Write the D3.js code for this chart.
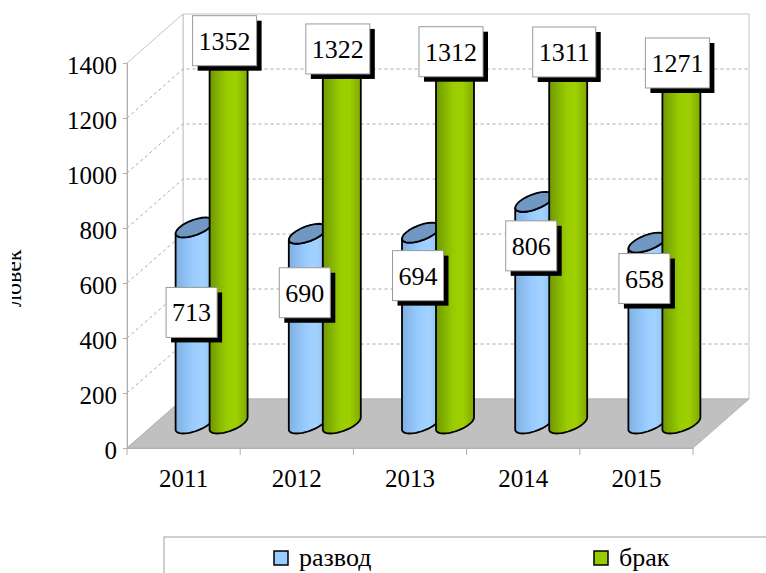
<!DOCTYPE html>
<html>
<head>
<meta charset="utf-8">
<script src="https://cdn.jsdelivr.net/npm/d3@7"></script>
<style>
  body { margin: 0; background: #fff; }
  svg { display: block; }
  svg text { font-family: 'Liberation Serif', 'DejaVu Serif', serif; fill: #000; }
</style>
</head>
<body>
<div id="chart"></div>
<script>
// данные
var years = ["2011", "2012", "2013", "2014", "2015"];
var razvod = [713, 690, 694, 806, 658];
var brak = [1352, 1322, 1312, 1311, 1271];
var yTicks = [0, 200, 400, 600, 800, 1000, 1200, 1400];
var seriesNames = ["развод", "брак"];
var axisTitle = "ловек";

var W = 766, H = 573;
var DX = 56, DY = -49;          // глубина 3D
var x0 = 127, x1 = 693;
var FONT = "'Liberation Serif', 'DejaVu Serif', serif";

var svg = d3.select("#chart").append("svg")
	.attr("width", W)
	.attr("height", H)
	.attr("font-family", FONT);

var x = d3.scaleBand().domain(years).range([x0, x1]);
var y = d3.scaleLinear().domain([0, 1400]).range([448, 63]);

function proj(px, v, z) {
	return [px + z * DX, y(v) + z * DY];
}

// градиенты
var defs = svg.append("defs");
var colors = [
	{ id: "gBlue", stops: ["#80b0e2", "#99ccff", "#a3d2ff", "#8fc0f2"], cap: "#7098c2" },
	{ id: "gGreen", stops: ["#6f9800", "#99cc00", "#9fd000", "#80aa00"], cap: "#6b9000" }
];
colors.forEach(c => {
	var lg = defs.append("linearGradient").attr("id", c.id)
		.attr("x1", 0).attr("x2", 1).attr("y1", 0).attr("y2", 0);
	[0, 0.45, 0.7, 1].forEach((o, i) => {
		lg.append("stop").attr("offset", o).attr("stop-color", c.stops[i]);
	});
});
defs.append("clipPath").attr("id", "titleClip")
	.append("rect").attr("x", 12).attr("y", 0).attr("width", 40).attr("height", H);

// задняя стенка
var bl = proj(x0, 0, 1), tl = proj(x0, 1400, 1), tr = proj(x1, 1400, 1), br = proj(x1, 0, 1);
svg.append("path")
	.attr("d", "M" + [bl, tl, tr, br].join("L") + "Z")
	.attr("fill", "#fff")
	.attr("stroke", "#c4c4c4");

// боковая стенка
var sw = [proj(x0, 0, 0), proj(x0, 1400, 0), proj(x0, 1400, 1), proj(x0, 0, 1)];
svg.append("path")
	.attr("d", "M" + sw.join("L") + "Z")
	.attr("fill", "#fff")
	.attr("stroke", "#c4c4c4");

// сетка
var grid = svg.append("g")
	.attr("stroke", "#a8a8a8")
	.attr("stroke-dasharray", "3,3")
	.attr("fill", "none");
yTicks.filter(v => v > 0 && v < 1400).forEach(v => {
	var a = proj(x0, v, 0), b = proj(x0, v, 1), c = proj(x1, v, 1);
	grid.append("path").attr("d", "M" + a + "L" + b + "L" + c);
});

// пол
var fl = [proj(x0, 0, 0), proj(x0, 0, 1), proj(x1, 0, 1), proj(x1, 0, 0)];
svg.append("path")
	.attr("d", "M" + fl.join("L") + "Z")
	.attr("fill", "#c0c0c0")
	.attr("stroke", "#b4b4b4");

// ось Y
var yAxis = svg.append("g")
	.attr("transform", "translate(" + x0 + ",0)")
	.call(d3.axisLeft(y).tickValues(yTicks).tickSize(4).tickPadding(6).tickFormat(d3.format("d")));
yAxis.attr("font-family", FONT).attr("font-size", 25);
yAxis.select(".domain").attr("stroke", "#b0b0b0");
yAxis.selectAll(".tick line").attr("stroke", "#b0b0b0");
yAxis.selectAll(".tick text").attr("dy", "0.42em");

// ось X
var xAxis = svg.append("g")
	.attr("transform", "translate(0," + y(0) + ")")
	.call(d3.axisBottom(x).tickSize(0).tickPadding(21));
xAxis.attr("font-family", FONT).attr("font-size", 25);
xAxis.select(".domain").attr("stroke", "#b0b0b0");
var edges = years.map(d => x(d)).concat([x1]);
svg.append("g").selectAll("line").data(edges).join("line")
	.attr("x1", d => d).attr("x2", d => d)
	.attr("y1", y(0)).attr("y2", y(0) + 7)
	.attr("stroke", "#b0b0b0");

// подпись оси
svg.append("g")
	.attr("clip-path", "url(#titleClip)")
	.append("text")
	.attr("transform", "translate(21,307) rotate(-90)")
	.attr("font-size", "24px")
	.text(axisTitle);

// цилиндры
var R = 15.2, A = 11.4, B = 10;
var tMax = Math.atan2(A, R), tMin = tMax + Math.PI;
function ept(cx, cy, t) {
	return [cx + R * Math.cos(t) + A * Math.sin(t), cy - B * Math.sin(t)];
}
function arc(cx, cy, ta, tb) {
	var pts = [];
	for (var i = 0; i <= 24; i++) pts.push(ept(cx, cy, ta + (tb - ta) * i / 24));
	return pts;
}
var line = d3.line();

var series = [razvod, brak];
var offs = [-17, 17];
var cyl = svg.append("g");
years.forEach((yr, i) => {
	series.forEach((vals, s) => {
		var cx = x(yr) + x.bandwidth() / 2 + DX / 2 + offs[s];
		var yb = y(0) + DY / 2, yt = y(vals[i]) + DY / 2;
		var body = arc(cx, yb, tMin, tMin + Math.PI).concat(arc(cx, yt, tMin + Math.PI, tMin));
		cyl.append("path")
			.attr("d", line(body) + "Z")
			.attr("fill", "url(#" + colors[s].id + ")")
			.attr("stroke", "#000")
			.attr("stroke-width", 1.8)
			.attr("stroke-linejoin", "round");
		cyl.append("path")
			.attr("d", line(arc(cx, yt, 0, 2 * Math.PI)) + "Z")
			.attr("fill", colors[s].cap)
			.attr("stroke", "#000")
			.attr("stroke-width", 1.8);
	});
});

// подписи значений
var labelDrop = [85, 59, 43, 44, 36];
var lab = svg.append("g");
function addLabel(cx, cy, val) {
	var g = lab.append("g");
	var t = g.append("text")
		.attr("x", cx).attr("y", cy + 9)
		.attr("text-anchor", "middle")
		.attr("font-size", "26px")
		.text(val);
	var w = t.node().getComputedTextLength() + 12, h = 50;
	g.insert("rect", "text")
		.attr("x", cx - w / 2 + 5).attr("y", cy - h / 2 + 5)
		.attr("width", w).attr("height", h)
		.attr("fill", "#000");
	g.insert("rect", "text")
		.attr("x", cx - w / 2).attr("y", cy - h / 2)
		.attr("width", w).attr("height", h)
		.attr("fill", "#fff")
		.attr("stroke", "#9a9a9a");
}
years.forEach((yr, i) => {
	var gc = x(yr) + x.bandwidth() / 2 + DX / 2;
	addLabel(gc + offs[0] - 3, y(razvod[i]) + DY / 2 + labelDrop[i], razvod[i]);
	addLabel(gc + offs[1] - 4, y(brak[i]) + DY / 2 - 11, brak[i]);
});

// легенда
var leg = svg.append("g");
leg.append("rect")
	.attr("x", 164).attr("y", 537)
	.attr("width", 700).attr("height", 100)
	.attr("fill", "#fff")
	.attr("stroke", "#a0a0a0");
var legX = [274, 594];
seriesNames.forEach((nm, s) => {
	leg.append("rect")
		.attr("x", legX[s]).attr("y", 551)
		.attr("width", 14).attr("height", 14)
		.attr("fill", colors[s].stops[1])
		.attr("stroke", "#000")
		.attr("stroke-width", 1.5);
	leg.append("text")
		.attr("x", legX[s] + 25).attr("y", 566)
		.attr("font-size", "26px")
		.text(nm);
});
</script>
</body>
</html>
